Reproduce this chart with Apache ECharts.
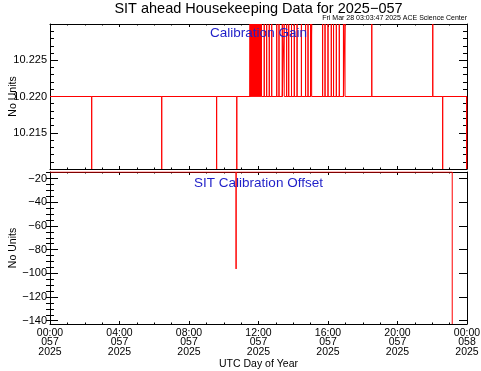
<!DOCTYPE html>
<html><head><meta charset="utf-8">
<script src="https://cdn.jsdelivr.net/npm/echarts@6/dist/echarts.min.js"></script>
<style>html,body{margin:0;padding:0;background:#fff}#c{width:481px;height:371px}</style>
</head><body><div id="c"></div>
<script>
// ---- tick labels ----
const xTickHours = [0, 4, 8, 12, 16, 20, 24];
const xTickLabels = ['00:00\n057\n2025','04:00\n057\n2025','08:00\n057\n2025','12:00\n057\n2025','16:00\n057\n2025','20:00\n057\n2025','00:00\n058\n2025'];
const offsetMajorTicks = [-140, -120, -100, -80, -60, -40, -20];
const offsetMinorTicks = [-140, -135, -130, -125, -120, -115, -110, -105, -100, -95, -90, -85, -80, -75, -70, -65, -60, -55, -50, -45, -40, -35, -30, -25, -20, -15];

// ---- Calibration Gain (hours of day 057, values) ----
const gainBase = 10.220;
const gainHigh = 10.230;
const gainLow = 10.210;
const gainStartHour = 0.0;
const gainEndHour = 24.0;
const gainUpSpikeHours = [11.51, 11.54, 11.57, 11.60, 11.63, 11.66, 11.69, 11.72, 11.75, 11.78, 11.81, 11.84, 11.87, 11.90, 11.93, 11.96, 11.99, 12.02, 12.05, 12.08, 12.11, 12.14, 12.17,
  12.33, 12.47, 12.62, 12.76, 13.05, 13.18, 13.37, 13.48, 13.62, 13.74, 13.90, 14.06, 14.22, 14.47, 14.71, 14.85, 15.00, 15.06,
  15.69, 15.83, 16.00, 16.19, 16.32, 16.48, 16.65, 16.89, 16.98, 18.52, 22.03];
const gainDownSpikeHours = [2.40, 6.43, 9.59, 10.75, 22.60, 23.98];

// ---- Calibration Offset ----
const offsetHours = [0.0, 10.71, 10.71, 10.71, 23.15, 23.15];
const offsetValues = [-14.4, -14.4, -96.3, -14.4, -14.4, -142.8];
const offsetMin = -142.8;
const offsetMax = -14.4;

// build gain series (time ordered)
const gainEvents = gainUpSpikeHours.map(h => [h, gainHigh]).concat(gainDownSpikeHours.map(h => [h, gainLow]));
gainEvents.sort((a, b) => a[0] - b[0]);
const gainData = [[gainStartHour, gainBase]];
gainEvents.forEach(e => { gainData.push([e[0], gainBase], [e[0], e[1]], [e[0], gainBase]); });
gainData.push([gainEndHour, gainBase]);
const offsetData = offsetHours.map((h, i) => [h, offsetValues[i]]);

const FONT = 'Liberation Sans, Arial, Helvetica, sans-serif';
const minus = s => String(s).replace('-', '\u2212');

function xAx(grid, pos, labels) {
  return {
    type: 'value', gridIndex: grid, position: pos, min: 0, max: 24, interval: 4,
    axisLine: { show: true, onZero: false, lineStyle: { color: '#000', width: 1 } },
    axisTick: { show: true, inside: true, length: 3, lineStyle: { color: '#000', width: 1 } },
    minorTick: { show: true, splitNumber: 4, length: 1.5, lineStyle: { color: '#000', width: 1 } },
    splitLine: { show: false }, minorSplitLine: { show: false },
    axisLabel: labels ? {
      show: true, margin: 4, color: '#000', fontFamily: FONT, fontSize: 10.5, lineHeight: 9.5,
      formatter: v => { const i = xTickHours.indexOf(Math.round(v)); return i >= 0 ? xTickLabels[i] : ''; }
    } : { show: false }
  };
}

const chart = echarts.init(document.getElementById('c'), null, { renderer: 'canvas' });
chart.setOption({
  animation: false,
  backgroundColor: '#fff',
  grid: [
    { left: 50, top: 24, width: 417, height: 145, outerBoundsMode: 'none' },
    { left: 50, top: 172, width: 417, height: 152, outerBoundsMode: 'none' }
  ],
  xAxis: [xAx(0, 'bottom', false), xAx(0, 'top', false), xAx(1, 'bottom', true), xAx(1, 'top', false)],
  yAxis: [
    { type: 'value', gridIndex: 0, position: 'left', min: 10.21, max: 10.23, interval: 0.005,
      axisLine: { show: true, onZero: false, lineStyle: { color: '#000', width: 1 } },
      axisTick: { show: true, inside: true, length: 8, lineStyle: { color: '#000' } },
      minorTick: { show: true, splitNumber: 5, length: 4, lineStyle: { color: '#000' } },
      splitLine: { show: false }, minorSplitLine: { show: false },
      axisLabel: { show: true, showMinLabel: false, showMaxLabel: false, margin: 3, color: '#000', fontFamily: FONT, fontSize: 11,
        formatter: v => v.toFixed(3) } },
    { type: 'value', gridIndex: 0, position: 'right', min: 10.21, max: 10.23, interval: 0.005,
      axisLine: { show: true, onZero: false, lineStyle: { color: '#000', width: 1 } },
      axisTick: { show: true, inside: true, length: 8, lineStyle: { color: '#000' } },
      minorTick: { show: true, splitNumber: 5, length: 4, lineStyle: { color: '#000' } },
      splitLine: { show: false }, minorSplitLine: { show: false }, axisLabel: { show: false } },
    { type: 'value', gridIndex: 1, position: 'left', min: offsetMin, max: offsetMax,
      axisLine: { show: true, onZero: false, lineStyle: { color: '#000', width: 1 } },
      axisTick: { show: true, inside: true, length: 8, customValues: offsetMajorTicks, lineStyle: { color: '#000' } },
      splitLine: { show: false },
      axisLabel: { show: true, customValues: offsetMajorTicks, margin: 3, color: '#000', fontFamily: FONT, fontSize: 11,
        formatter: v => minus(v) } },
    { type: 'value', gridIndex: 1, position: 'right', min: offsetMin, max: offsetMax,
      axisLine: { show: true, onZero: false, lineStyle: { color: '#000', width: 1 } },
      axisTick: { show: true, inside: true, length: 8, customValues: offsetMajorTicks, lineStyle: { color: '#000' } },
      splitLine: { show: false }, axisLabel: { show: false } },
    { type: 'value', gridIndex: 1, position: 'left', min: offsetMin, max: offsetMax,
      axisLine: { show: false },
      axisTick: { show: true, inside: true, length: 4, customValues: offsetMinorTicks, lineStyle: { color: '#000' } },
      splitLine: { show: false }, axisLabel: { show: false } },
    { type: 'value', gridIndex: 1, position: 'right', min: offsetMin, max: offsetMax,
      axisLine: { show: false },
      axisTick: { show: true, inside: true, length: 4, customValues: offsetMinorTicks, lineStyle: { color: '#000' } },
      splitLine: { show: false }, axisLabel: { show: false } }
  ],
  series: [
    { type: 'line', xAxisIndex: 0, yAxisIndex: 0, data: gainData, symbol: 'none', showSymbol: false, clip: true,
      lineStyle: { color: '#ff0000', width: 1 }, itemStyle: { color: '#ff0000' }, z: 5 },
    { type: 'line', xAxisIndex: 2, yAxisIndex: 2, data: offsetData, symbol: 'none', showSymbol: false, clip: true,
      lineStyle: { color: '#ff0000', width: 1 }, itemStyle: { color: '#ff0000' }, z: 5 }
  ],
  graphic: [
    { type: 'text', x: 258.5, y: 9, z: 10, style: { text: 'SIT ahead Housekeeping Data for 2025\u2212057', align: 'center', verticalAlign: 'middle', fontFamily: FONT, fontSize: 14.5, fill: '#000' } },
    { type: 'text', x: 467, y: 18.5, z: 10, style: { text: 'Fri Mar 28 03:03:47 2025 ACE Science Center', align: 'right', verticalAlign: 'middle', fontFamily: FONT, fontSize: 7, fill: '#000' } },
    { type: 'text', x: 258.5, y: 33, z: 10, style: { text: 'Calibration Gain', align: 'center', verticalAlign: 'middle', fontFamily: FONT, fontSize: 13.5, fill: '#1f1fc8' } },
    { type: 'text', x: 258.5, y: 183, z: 10, style: { text: 'SIT Calibration Offset', align: 'center', verticalAlign: 'middle', fontFamily: FONT, fontSize: 13.5, fill: '#1f1fc8' } },
    { type: 'text', x: 13, y: 96.5, rotation: Math.PI / 2, z: 10, style: { text: 'No Units', align: 'center', verticalAlign: 'middle', fontFamily: FONT, fontSize: 10.5, fill: '#000' } },
    { type: 'text', x: 13, y: 248, rotation: Math.PI / 2, z: 10, style: { text: 'No Units', align: 'center', verticalAlign: 'middle', fontFamily: FONT, fontSize: 10.5, fill: '#000' } },
    { type: 'text', x: 258.5, y: 364, z: 10, style: { text: 'UTC Day of Year', align: 'center', verticalAlign: 'middle', fontFamily: FONT, fontSize: 10.5, fill: '#000' } }
  ]
});
</script></body></html>
